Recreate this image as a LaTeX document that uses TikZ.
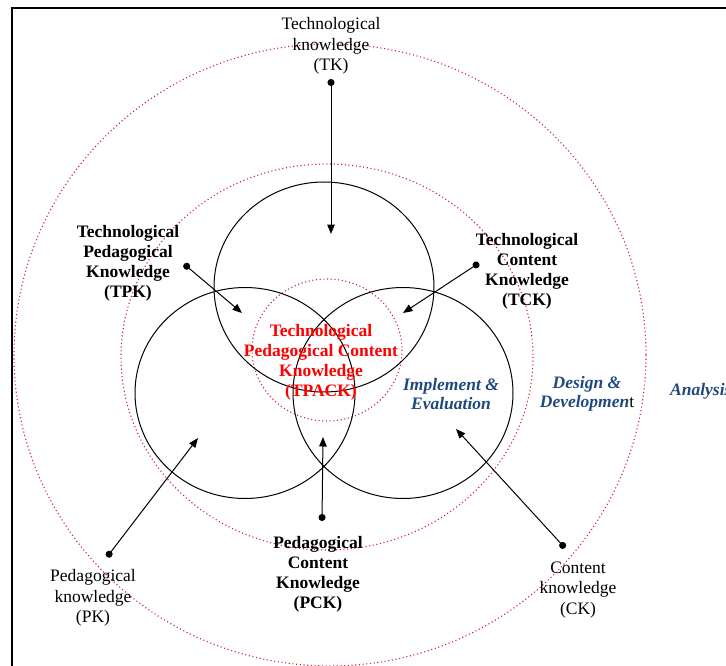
\documentclass[tikz,border=0pt]{standalone}
\usepackage{fontspec}
\setmainfont{Liberation Serif}
\usetikzlibrary{arrows.meta}
\definecolor{dotred}{RGB}{210,30,60}
\definecolor{dblue}{RGB}{31,73,125}
\definecolor{tred}{RGB}{255,0,0}
\tikzset{
  ring/.style={draw=black, line width=1pt},
  dotring/.style={draw=dotred, line width=1.1pt, dash pattern=on 1.1pt off 2.6pt},
  lbl/.style={align=center, inner sep=0pt, font=\fontsize{17.5}{20.5}\selectfont},
  blbl/.style={lbl, font=\fontsize{17.5}{20}\selectfont\bfseries},
  phase/.style={align=center, inner sep=0pt, text=dblue, font=\fontsize{17.5}{19.5}\selectfont\bfseries\itshape},
  pointer/.style={draw=black, line width=1pt, {Circle[length=7pt]}-{Triangle[length=9.5pt,width=7.5pt]}},
}
\begin{document}
\begin{tikzpicture}[x=1pt,y=-1pt]
\useasboundingbox (0,0) rectangle (726,666);
% frame
\draw[line width=2.5pt] (12,720) -- (12,8) -- (760,8);
% dotted rings
\draw[dotring] (330,355) ellipse [x radius=316, y radius=311];
\draw[dotring] (327,357) ellipse [x radius=206, y radius=193];
\draw[dotring] (327,350) ellipse [x radius=75, y radius=71];
% solid circles
\draw[ring] (324,287) ellipse [x radius=110, y radius=105];
\draw[ring] (245,393) ellipse [x radius=110, y radius=105.5];
\draw[ring] (403,393) ellipse [x radius=110, y radius=105.5];
% labels
\node[lbl] (tk) at (331,46) {Technological\\knowledge\\(TK)};
\node[blbl] (tpk) at (128,263) {Technological\\Pedagogical\\Knowledge\\(TPK)};
\node[blbl] (tck) at (527,271) {Technological\\Content\\Knowledge\\(TCK)};
\node[blbl, text=tred] (tpack) at (321,362) {Technological\\Pedagogical Content\\Knowledge\\(TPACK)};
\node[phase] (impl) at (451,394) {Implement \&\\Evaluation};
\node[phase] (design) at (587,394) {Design \&\\Developmen{\color{black}\normalfont t}};
\node[phase, anchor=west] (analysis) at (670,391) {Analysis};
\node[blbl] (pck) at (318,574) {Pedagogical\\Content\\Knowledge\\(PCK)};
\node[lbl] (pk) at (93,598) {Pedagogical\\knowledge\\(PK)};
\node[lbl] (ck) at (578,590) {Content\\knowledge\\(CK)};
% pointer ends
\coordinate (tkdot) at (331,79);   \coordinate (tktip) at (331,234);
\coordinate (tpkdot) at (184,264); \coordinate (tpktip) at (242,313);
\coordinate (tckdot) at (479,263); \coordinate (tcktip) at (403,313);
\coordinate (pkdot) at (107,557);  \coordinate (pktip) at (198,438);
\coordinate (pckdot) at (322,521); \coordinate (pcktip) at (323,437);
\coordinate (ckdot) at (565,548);  \coordinate (cktip) at (456,429);
\draw[pointer] (tkdot) -- (tktip);
\draw[pointer] (tpkdot) -- (tpktip);
\draw[pointer] (tckdot) -- (tcktip);
\draw[pointer] (pkdot) -- (pktip);
\draw[pointer] (pckdot) -- (pcktip);
\draw[pointer] (ckdot) -- (cktip);
\end{tikzpicture}
\end{document}
